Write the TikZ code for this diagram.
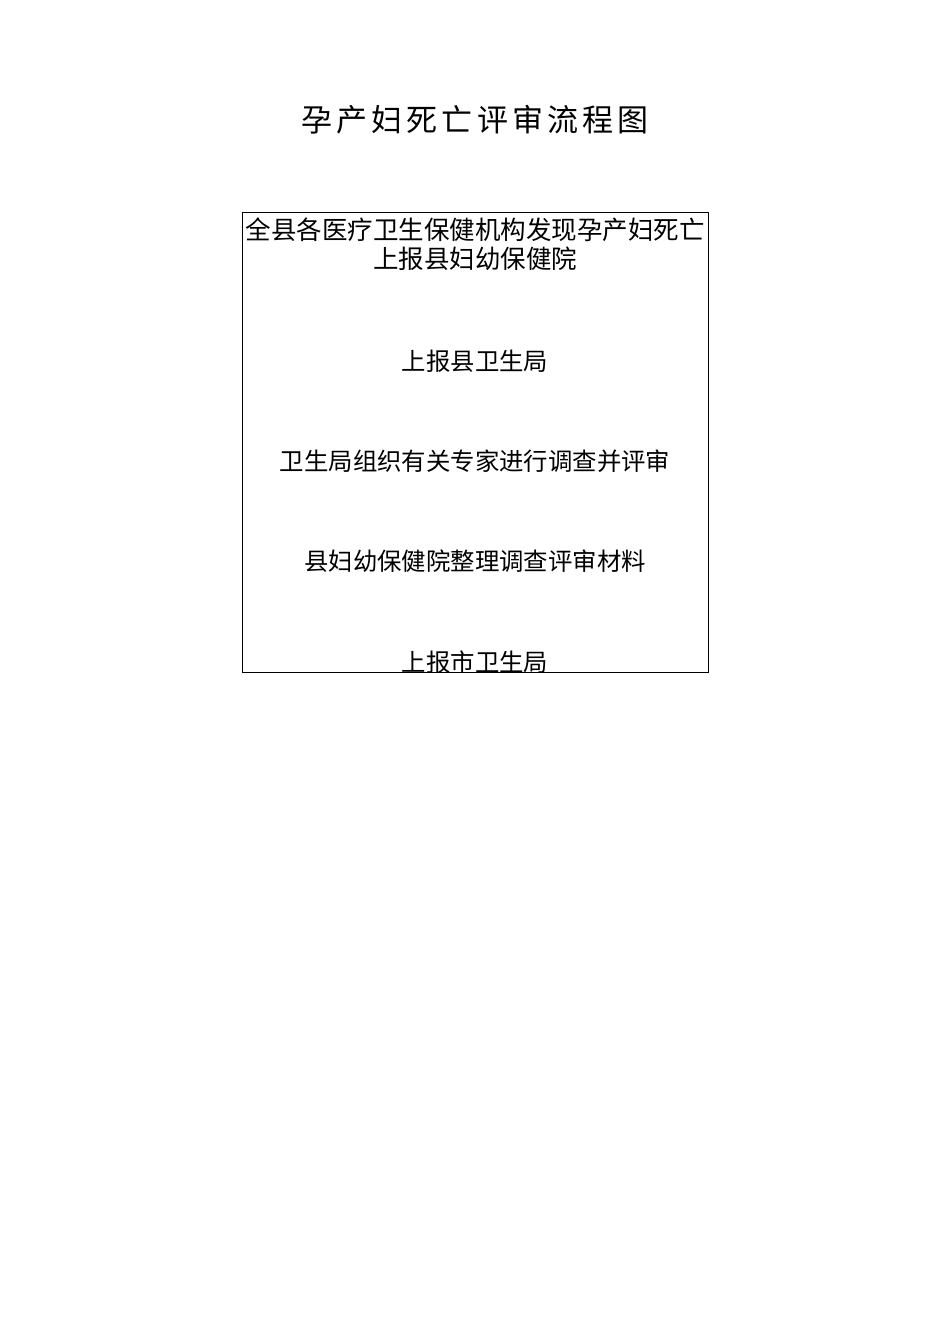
\documentclass[tikz,border=0pt]{standalone}
\usepackage{fontspec}
\setmainfont{Noto Sans CJK SC}
\begin{document}
\begin{tikzpicture}[x=1pt,y=-1pt,
	txt/.style={anchor=base,inner sep=0pt,font=\fontsize{24.4}{29}\selectfont},
	big/.style={txt,font=\fontsize{25.5}{30}\selectfont},
	ttl/.style={anchor=base,inner sep=0pt,font=\fontsize{31}{36}\selectfont\addfontfeature{LetterSpace=13}}]
			\useasboundingbox (0,0) rectangle (950,1344);
			\node[ttl] (title) at (475,131.5) {孕产妇死亡评审流程图};
			
			\draw[line width=1pt] (242,212) rectangle (708,672);
			
			\node[big] (find) at (475,239) {全县各医疗卫生保健机构发现孕产妇死亡};
			\node[big] (hosp) at (475,268.5) {上报县妇幼保健院};
			\node[txt] (bureau) at (475,370.8) {上报县卫生局};
			\node[txt] (review) at (475,470.8) {卫生局组织有关专家进行调查并评审};
			\node[txt] (sort) at (475,570.8) {县妇幼保健院整理调查评审材料};
			\node[txt] (city) at (475,671.3) {上报市卫生局};
\end{tikzpicture}
\end{document}
